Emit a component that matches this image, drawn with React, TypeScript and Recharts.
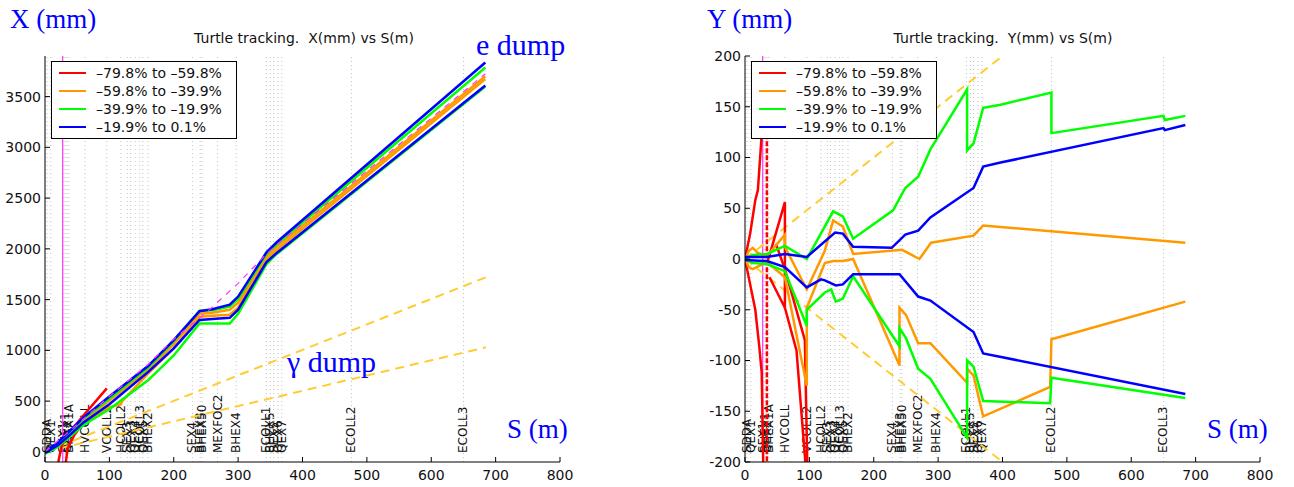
import React from 'react'
import { LineChart, Line, XAxis, YAxis, ReferenceLine, Legend } from 'recharts'

type Pt = [number, number]

// legend / energy bins
const ranges = ['–79.8% to –59.8%', '–59.8% to –39.9%', '–39.9% to –19.9%', '–19.9% to 0.1%']
const rangeColors = ['#ff0000', '#ff9900', '#00ff00', '#0000ff']

// beamline elements (S in m)
const elemS = [3, 9, 28, 31, 34, 37, 62, 96, 118, 128, 133, 140, 147, 152, 160, 229, 241, 244, 268, 297, 344, 350, 355, 362, 368, 476, 650]
const elemNames = ['SDDA', 'QEX1', 'SEX1', 'BHEX1', 'QEX2', 'BHEX1A', 'HVCOLL', 'VCOLL2', 'HCOLL2', 'SEX3', 'QEX3', 'QEX4', 'HCOLL3', 'QEX5', 'BHEX2', 'SEX4', 'BHEX3', 'BHEX50', 'MEXFOC2', 'BHEX4', 'ECOLL1', 'BHEX5', 'SEX5', 'QEX6', 'QEX7', 'ECOLL2', 'ECOLL3']
const markerS = 27.5

const sTicks = [0, 100, 200, 300, 400, 500, 600, 700, 800]
const xTicks = [0, 500, 1000, 1500, 2000, 2500, 3000, 3500]
const yTicks = [-200, -150, -100, -50, 0, 50, 100, 150, 200]

// X (mm) vs S (m)
const xGammaHi: Pt[] = [[0, 0], [685, 1720]]
const xGammaLo: Pt[] = [[0, 0], [685, 1030]]
const xDesign: Pt[] = [[0, 0], [30, 160], [100, 545], [160, 860], [200, 1110], [250, 1370], [300, 1660], [344, 1950], [360, 2040], [684, 3725]]
const xRedA: Pt[] = [[20, -120], [26, 60], [35, 170], [60, 360], [96, 625]]
const xRedB: Pt[] = [[32, -120], [35, 30], [45, 160], [70, 380]]
const xOrangeLo: Pt[] = [[0, -10], [20, 60], [35, 140], [60, 280], [100, 440], [118, 470], [120, 500], [160, 770], [200, 1020], [240, 1330], [260, 1340], [287, 1350], [300, 1420], [344, 1900], [360, 1990], [684, 3672]]
const xOrangeUp: Pt[] = [[0, 0], [20, 80], [35, 165], [60, 310], [100, 505], [160, 805], [200, 1060], [240, 1360], [260, 1370], [287, 1400], [300, 1470], [344, 1925], [360, 2020], [684, 3700]]
const xGreenLo: Pt[] = [[0, -20], [20, 50], [35, 130], [60, 265], [100, 420], [160, 705], [200, 950], [240, 1265], [260, 1265], [287, 1265], [300, 1360], [344, 1850], [360, 1950], [684, 3600]]
const xGreenUp: Pt[] = [[0, 0], [20, 85], [35, 175], [60, 325], [100, 525], [160, 830], [200, 1090], [240, 1390], [260, 1395], [287, 1430], [300, 1510], [344, 1950], [360, 2045], [684, 3787]]
const xBlueLo: Pt[] = [[0, -10], [20, 65], [35, 145], [60, 290], [100, 470], [160, 785], [200, 1020], [240, 1300], [260, 1310], [287, 1320], [300, 1400], [344, 1870], [360, 1960], [684, 3610]]
const xBlueUp: Pt[] = [[0, 0], [20, 95], [35, 185], [60, 340], [100, 545], [160, 845], [200, 1100], [240, 1385], [260, 1405], [287, 1450], [300, 1530], [344, 1965], [360, 2065], [684, 3836]]

// Y (mm) vs S (m)
const yGammaHi: Pt[] = [[0, 0], [420, 210]]
const yGammaLo: Pt[] = [[0, 0], [420, -210]]
const yRedUp: Pt[] = [[0, 0], [8, 25], [16, 58], [20, 68], [26, 123], [29, 185]]
const yRedLo: Pt[] = [[0, 0], [8, -25], [16, -50], [22, -85], [26, -112], [29, -230]]
const yRedCut: Pt[] = [[34, 185], [34, -230]]
const yRedMid: Pt[] = [[34, -5], [62, 56], [62, -48], [38, -18]]
const yRedDownA: Pt[] = [[48, 15], [62, -10], [93, -80], [97, -210]]
const yRedDownB: Pt[] = [[62, -48], [80, -90], [95, -210]]
const yOrangeUp: Pt[] = [[0, 0], [6, 8], [12, 11], [20, 6], [34, 3], [62, 24], [62, 12], [96, -30], [124, 8], [137, 38], [152, 32], [168, 5], [244, 9], [271, 0], [289, 16], [355, 23], [370, 33], [684, 16]]
const yOrangeLo: Pt[] = [[0, 0], [6, -8], [12, -10], [34, -3], [62, -18], [96, -125], [96, -48], [124, -4], [137, -2], [152, -2], [168, 0], [240, -105], [240, -48], [250, -55], [269, -83], [288, -83], [345, -122], [345, -108], [355, -115], [370, -155], [474, -126], [476, -79], [684, -42]]
const yGreenUp: Pt[] = [[0, 0], [12, 4], [34, 5], [62, 13], [96, 0], [137, 47], [152, 42], [168, 20], [230, 48], [249, 70], [269, 81], [288, 108], [345, 167], [345, 107], [355, 114], [370, 149], [397, 152], [476, 164], [476, 124], [650, 141], [652, 137], [684, 141]]
const yGreenLo: Pt[] = [[0, 0], [12, -4], [34, -5], [62, -12], [96, -66], [96, -50], [124, -33], [134, -30], [141, -42], [152, -39], [168, -17], [240, -86], [240, -68], [250, -78], [269, -108], [288, -118], [345, -176], [345, -100], [355, -106], [370, -140], [474, -142], [476, -117], [684, -137]]
const yBlueUp: Pt[] = [[0, 2], [34, 2], [62, 5], [96, 2], [140, 26], [152, 25], [168, 12], [228, 11], [249, 24], [269, 28], [288, 41], [355, 70], [370, 91], [397, 95], [650, 129], [652, 127], [684, 132]]
const yBlueLo: Pt[] = [[0, -1], [34, -2], [62, -8], [96, -28], [118, -20], [124, -21], [141, -26], [152, -25], [168, -15], [240, -15], [269, -37], [288, -41], [355, -72], [370, -93], [684, -133]]

const YELLOW = '#ffcc33'
const MAGENTA = '#ff33ff'
const [RED, ORANGE, GREEN, BLUE] = rangeColors

interface Series {
  pts: Pt[]
  color: string
  width?: number
  dash?: string
}

const leftSeries: Series[] = [
  { pts: xGammaHi, color: YELLOW, dash: '9 6' },
  { pts: xGammaLo, color: YELLOW, dash: '9 6' },
  { pts: xRedA, color: RED, width: 2.5 },
  { pts: xRedB, color: RED, width: 2.5 },
  { pts: xOrangeLo, color: ORANGE, width: 2.5 },
  { pts: xOrangeUp, color: ORANGE, width: 2.5 },
  { pts: xGreenLo, color: GREEN, width: 2.5 },
  { pts: xGreenUp, color: GREEN, width: 2.5 },
  { pts: xBlueLo, color: BLUE, width: 2.5 },
  { pts: xBlueUp, color: BLUE, width: 2.5 },
  { pts: xDesign, color: MAGENTA, width: 1.2, dash: '6 6' },
]

const rightSeries: Series[] = [
  { pts: yGammaHi, color: YELLOW, dash: '9 6' },
  { pts: yGammaLo, color: YELLOW, dash: '9 6' },
  { pts: yRedUp, color: RED, width: 2.5 },
  { pts: yRedLo, color: RED, width: 2.5 },
  { pts: yRedCut, color: RED, width: 2.5, dash: '5 2' },
  { pts: yRedMid, color: RED, width: 2.5 },
  { pts: yRedDownA, color: RED, width: 2.5 },
  { pts: yRedDownB, color: RED, width: 2.5 },
  { pts: yOrangeUp, color: ORANGE, width: 2.5 },
  { pts: yOrangeLo, color: ORANGE, width: 2.5 },
  { pts: yGreenUp, color: GREEN, width: 2.5 },
  { pts: yGreenLo, color: GREEN, width: 2.5 },
  { pts: yBlueUp, color: BLUE, width: 2.5 },
  { pts: yBlueLo, color: BLUE, width: 2.5 },
]

const toRows = (pts: Pt[]) => pts.map(([s, v]) => ({ s, v }))

const SANS = 'DejaVu Sans'
const SERIF = 'Liberation Serif'

function ElemLabel(props: any) {
  const { viewBox, name } = props
  if (!viewBox) return null
  const x = viewBox.x
  const y = viewBox.y + viewBox.height - 9
  return (
    <text
      x={x}
      y={y}
      transform={`rotate(-90 ${x} ${y})`}
      dominantBaseline="central"
      fontSize={12}
      fontFamily={SANS}
      fill="#111"
    >
      {name}
    </text>
  )
}

function LegendBox() {
  return (
    <div
      style={{
        boxSizing: 'border-box',
        width: 186,
        border: '1.5px solid #000',
        background: '#fff',
        padding: '2px 0 2px 7px',
        fontFamily: SANS,
        fontSize: 14,
        lineHeight: '18px',
        color: '#111',
      }}
    >
      {ranges.map((r, i) => (
        <div key={r} style={{ display: 'flex', alignItems: 'center', whiteSpace: 'nowrap' }}>
          <span style={{ width: 27, height: 0, borderTop: `2.5px solid ${rangeColors[i]}`, marginRight: 10 }} />
          <span>{r}</span>
        </div>
      ))}
    </div>
  )
}

interface PanelProps {
  series: Series[]
  domain: [number, number]
  ticks: number[]
}

function Panel({ series, domain, ticks }: PanelProps) {
  return (
    <LineChart width={645} height={487} margin={{ top: 56, right: 85, bottom: 0, left: 0 }}>
      <XAxis
        type="number"
        dataKey="s"
        domain={[0, 800]}
        ticks={sTicks}
        allowDataOverflow
        height={25}
        stroke="#000"
        tickSize={-5}
        tickMargin={13}
        tick={{ fontSize: 14, fontFamily: SANS, fill: '#111' }}
      />
      <YAxis
        type="number"
        dataKey="v"
        domain={domain}
        ticks={ticks}
        allowDataOverflow
        width={45}
        stroke="#000"
        tickSize={-5}
        tickMargin={9}
        tick={{ fontSize: 14, fontFamily: SANS, fill: '#111' }}
      />
      {elemS.map((s, i) => (
        <ReferenceLine
          key={elemNames[i]}
          x={s}
          stroke="#c4c4c4"
          strokeDasharray="1 3"
          label={<ElemLabel name={elemNames[i]} />}
        />
      ))}
      <ReferenceLine x={markerS} stroke={MAGENTA} strokeWidth={1.2} />
      {series.map((d, i) => (
        <Line
          key={i}
          data={toRows(d.pts)}
          dataKey="v"
          type="linear"
          stroke={d.color}
          strokeWidth={d.width ?? 2}
          strokeDasharray={d.dash}
          dot={false}
          activeDot={false}
          isAnimationActive={false}
        />
      ))}
      <Legend
        layout="horizontal"
        verticalAlign="middle"
        align="center"
        content={() => <LegendBox />}
        wrapperStyle={{ left: 51, top: 61, width: 186, height: 78 }}
      />
    </LineChart>
  )
}

export default function App() {
  const blue = '#0000ff'
  return (
    <div style={{ position: 'absolute', left: 0, top: 0, width: 1294, height: 487, background: '#fff' }}>
      <div style={{ position: 'absolute', left: 0, top: 0 }}>
        <Panel series={leftSeries} domain={[-100, 3900]} ticks={xTicks} />
      </div>
      <div style={{ position: 'absolute', left: 700, top: 0 }}>
        <Panel series={rightSeries} domain={[-200, 200]} ticks={yTicks} />
      </div>
      <svg width={1294} height={487} style={{ position: 'absolute', left: 0, top: 0, pointerEvents: 'none' }}>
        <text x={10} y={28} fontFamily={SERIF} fontSize={27} fill={blue}>X (mm)</text>
        <text x={707} y={28} fontFamily={SERIF} fontSize={27} fill={blue}>Y (mm)</text>
        <text x={304} y={43} textAnchor="middle" fontFamily={SANS} fontSize={14} fill="#111" style={{ whiteSpace: 'pre' }}>Turtle tracking.  X(mm) vs S(m)</text>
        <text x={1003} y={43} textAnchor="middle" fontFamily={SANS} fontSize={14} fill="#111" style={{ whiteSpace: 'pre' }}>Turtle tracking.  Y(mm) vs S(m)</text>
        <text x={476} y={55} fontFamily={SERIF} fontSize={30} fill={blue}>e dump</text>
        <text x={287} y={372} fontFamily={SERIF} fontSize={30} fill={blue}>γ dump</text>
        <text x={507} y={438} fontFamily={SERIF} fontSize={27} fill={blue}>S (m)</text>
        <text x={1207} y={438} fontFamily={SERIF} fontSize={27} fill={blue}>S (m)</text>
      </svg>
    </div>
  )
}
